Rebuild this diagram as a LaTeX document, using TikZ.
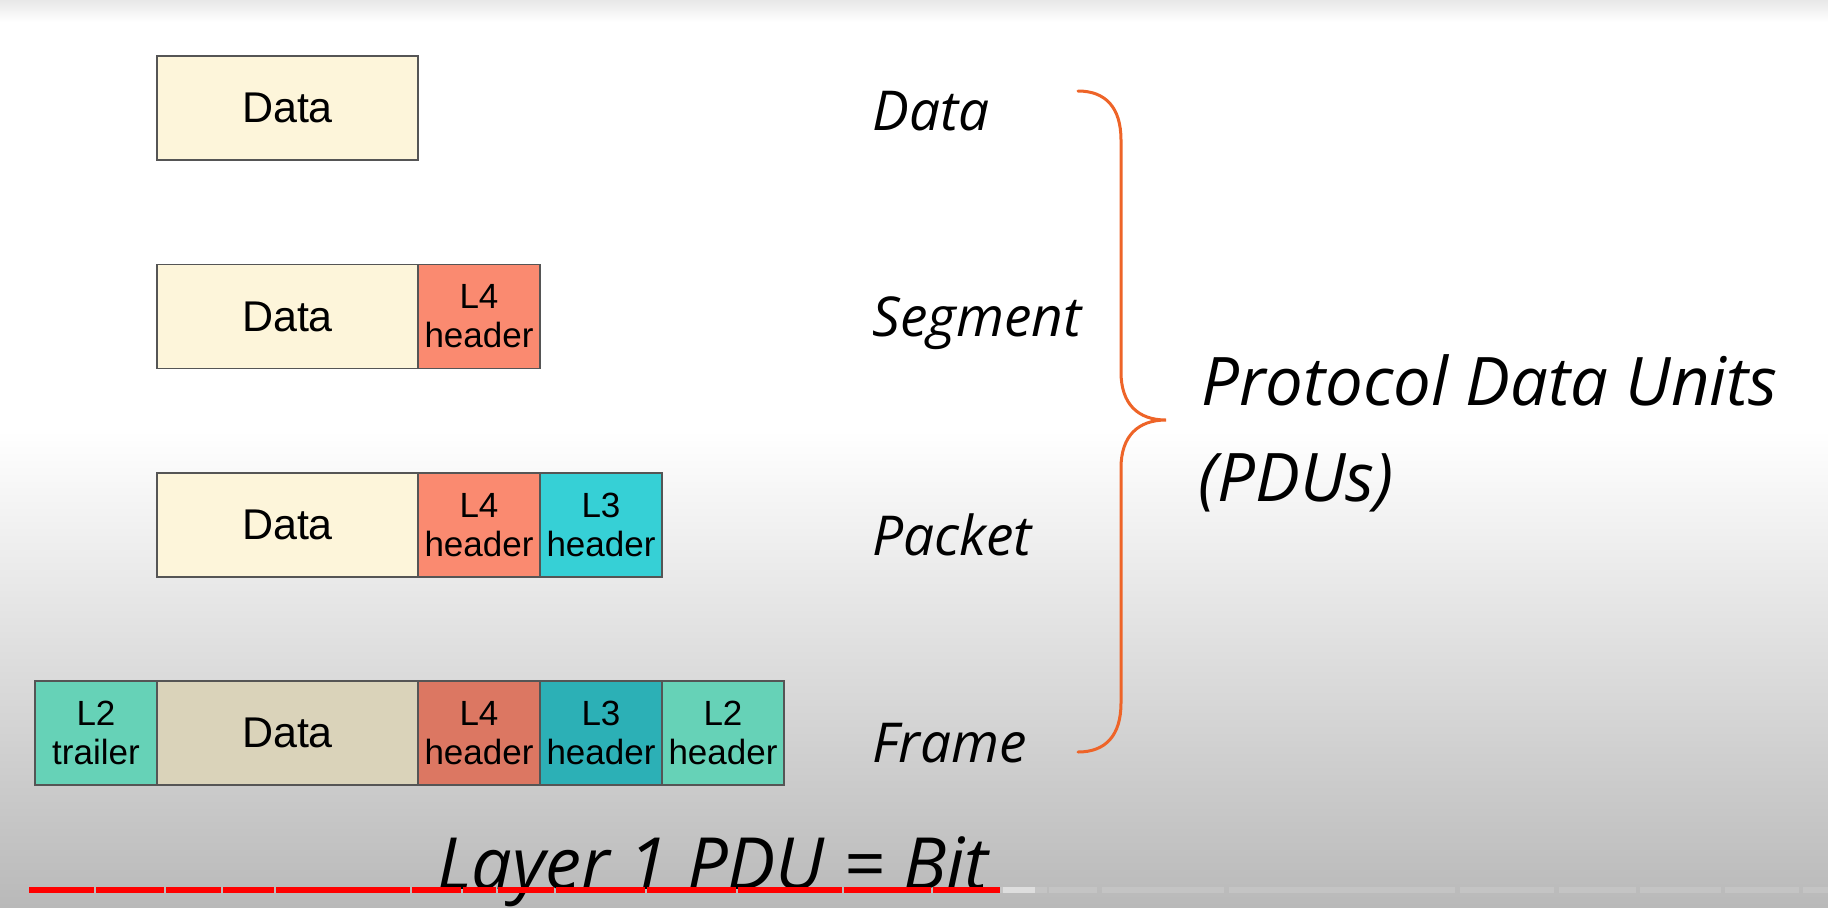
\documentclass[tikz,border=0pt]{standalone}
\usepackage{fontspec}
\setmainfont{Liberation Sans}
\newfontfamily\handfont{Open Sans}
\usepackage{tikz}
\usetikzlibrary{positioning}

\definecolor{datafill}{HTML}{FDF5DA}
\definecolor{datadark}{HTML}{DAD3BA}
\definecolor{lfourfill}{HTML}{FA8A70}
\definecolor{lfourdark}{HTML}{DC7762}
\definecolor{lthreefill}{HTML}{36D0D6}
\definecolor{lthreedark}{HTML}{2CB0B6}
\definecolor{ltwodark}{HTML}{66D2B7}
\definecolor{boxline}{HTML}{555555}
\definecolor{bracecol}{HTML}{EE6428}
\definecolor{bgdark}{HTML}{B9B9B9}
\definecolor{ytred}{HTML}{FF0000}
\definecolor{ytgray}{HTML}{C4C4C4}
\definecolor{ytbuffer}{HTML}{DEDEDE}

\tikzset{
	cell/.style={draw=boxline, line width=0.6pt, inner sep=0pt, outer sep=0pt,
		minimum height=52pt, align=center},
	datacell/.style={cell, minimum width=130.5pt, font=\fontsize{21.5}{24}\selectfont},
	hdrcell/.style={cell, minimum width=61pt, font=\fontsize{17.5}{19.5}\selectfont},
	pduname/.style={anchor=base west, inner sep=0pt,
		font=\handfont\itshape\fontsize{27.5}{32}\selectfont},
	pdutext/.style={pduname, font=\handfont\itshape\fontsize{33.5}{38}\selectfont},
}

\begin{document}
\begin{tikzpicture}[x=0.5pt, y=-0.5pt]
	
	\useasboundingbox (0,0) rectangle (1828,907);
	\fill[white] (0,0) rectangle (1828,430);
	\shade[top color=gray!18, bottom color=white] (0,0) rectangle (1828,22);
	\shade[top color=white, bottom color=bgdark] (0,430) rectangle (1828,907);
	
	\node[datacell, fill=datafill] (data1) at (287.5,108) {Data};
	
	\node[datacell, fill=datafill] (data2) at (287.5,316.5) {Data};
	\node[hdrcell, fill=lfourfill, right=0pt of data2] (lfour2) {L4\\header};
	
	\node[datacell, fill=datafill] (data3) at (287.5,525) {Data};
	\node[hdrcell, fill=lfourfill, right=0pt of data3] (lfour3) {L4\\header};
	\node[hdrcell, fill=lthreefill, right=0pt of lfour3] (lthree3) {L3\\header};
	
	\node[datacell, fill=datadark] (data4) at (287.5,733) {Data};
	\node[hdrcell, fill=ltwodark, left=0pt of data4] (trailer4) {L2\\trailer};
	\node[hdrcell, fill=lfourdark, right=0pt of data4] (lfour4) {L4\\header};
	\node[hdrcell, fill=lthreedark, right=0pt of lfour4] (lthree4) {L3\\header};
	\node[hdrcell, fill=ltwodark, right=0pt of lthree4] (ltwo4) {L2\\header};
	
	\node[pduname] (nmdata) at (872,130) {Data};
	\node[pduname] (nmsegment) at (872,336) {Segment};
	\node[pduname] (nmpacket) at (872,555) {Packet};
	\node[pduname] (nmframe) at (872,762) {Frame};
	
	\draw[bracecol, line width=1.5pt, line cap=round]
		(1078,91) .. controls (1106,91) and (1121,108) .. (1121,140) -- (1121,372)
		.. controls (1121,404) and (1138,420) .. (1166,420)
		.. controls (1138,420) and (1121,436) .. (1121,468) -- (1121,703)
		.. controls (1121,735) and (1106,752) .. (1078,752);
	
	\node[pdutext] (pdutitle) at (1201,405) {Protocol Data Units};
	\node[pdutext] (pduabbr) at (1198,501) {(PDUs)};
	
	\node[pduname, font=\handfont\itshape\fontsize{36}{40}\selectfont] (layerone) at (437,889) {Layer 1 PDU = Bit};
	
	\foreach \a/\b in {29/94, 96/164, 166/221, 223/274, 276/410, 412/461, 463/496,
		498/554, 556/645, 647/736, 738/842, 844/931, 933/1000}
		\fill[ytred] (\a,887) rectangle (\b,893);
	\fill[ytgray] (1000,887) rectangle (1047,893);
	\fill[ytbuffer] (1003,887) rectangle (1035,893);
	\foreach \a/\b in {1049/1097, 1102/1224, 1229/1455, 1460/1554, 1559/1636,
		1640/1721, 1725/1799, 1803/1828}
		\fill[ytgray] (\a,887) rectangle (\b,893);
	
\end{tikzpicture}
\end{document}
